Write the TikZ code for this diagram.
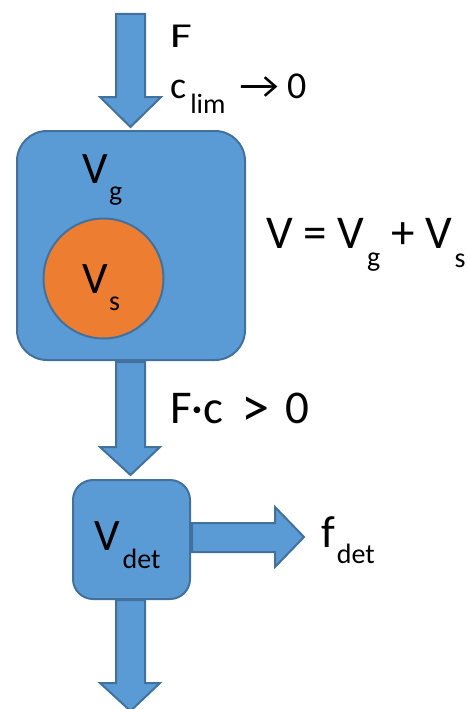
\documentclass[tikz,border=0pt]{standalone}
\usepackage{graphicx}
\usepackage{fontspec}
\setmainfont{Carlito}
\definecolor{boxblue}{HTML}{5B9BD5}
\definecolor{edgeblue}{HTML}{41719C}
\definecolor{solidorange}{HTML}{ED7D31}
\newcommand\lowsub[2][17pt]{\lower#1\hbox{\fontsize{28}{28}\selectfont #2}}
\newcommand\sumtxt{\fontsize{47}{47}\selectfont}
\newcommand\boxtxt{\fontsize{45}{45}\selectfont}
\tikzset{
  blockfill/.style={fill=boxblue, draw=edgeblue, line width=2pt, line join=miter},
  lbl/.style={inner sep=0pt, anchor=base west, text=black},
}
\begin{document}
\begin{tikzpicture}[x=1pt,y=-1pt]
\useasboundingbox (0,0) rectangle (467,709);
% boxes
\node[blockfill, rounded corners=30pt, minimum width=228pt, minimum height=229pt, inner sep=0pt, anchor=north west] (reactor) at (16,130) {};
\node[circle, fill=solidorange, draw=edgeblue, line width=2pt, minimum size=120pt, inner sep=0pt] (solid) at (103.5,278.5) {};
\node[blockfill, rounded corners=20pt, minimum width=117pt, minimum height=119pt, inner sep=0pt, anchor=north west] (det) at (72,479) {};
% block arrows
\draw[blockfill] (116,14) -- (145,14) -- (145,97) -- (161,97) -- (130.5,127) -- (100,97) -- (116,97) -- cycle;
\draw[blockfill] (116,362) -- (145,362) -- (145,447) -- (160,447) -- (130.5,475) -- (100,447) -- (116,447) -- cycle;
\draw[blockfill] (116,600) -- (145,600) -- (145,683) -- (160,683) -- (130.5,711) -- (100,683) -- (116,683) -- cycle;
\draw[blockfill] (192,523) -- (275,523) -- (275,507) -- (304,537) -- (275,567) -- (275,552) -- (192,552) -- cycle;
% labels
\node[lbl] (lF) at (170,48) {\fontsize{35}{35}\selectfont\scalebox{1.35}[1]{F}};
\node[lbl] (lclim) at (170,98) {\fontsize{38}{38}\selectfont c\lowsub[15pt]{\kern4pt lim}\hspace{14pt}\scalebox{1.15}[1]{→}\hspace{8pt}0};
\node[lbl] (lVg) at (82.5,183) {\boxtxt V\lowsub{\kern1pt g}};
\node[lbl] (lVs) at (82.5,293) {\boxtxt V\lowsub{\kern1pt s}};
\node[lbl] (lsum) at (266,248) {\sumtxt V = V\lowsub[18pt]{\kern3pt g} + V\lowsub[19pt]{\kern3pt s}};
\node[lbl] (lFc) at (170,423) {\sumtxt F·c\hspace{18pt}\raisebox{-3pt}{\scalebox{1.2}{>}}\hspace{16pt}0};
\node[lbl] (lVdet) at (94,550) {\boxtxt V\lowsub[18pt]{\kern3pt det}};
\node[lbl] (lfdet) at (321,547) {\boxtxt f\lowsub[16pt]{\kern2pt det}};
\end{tikzpicture}
\end{document}
